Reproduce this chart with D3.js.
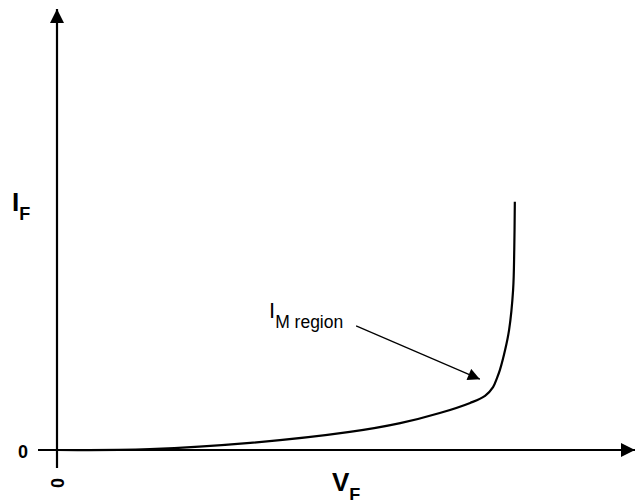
<!DOCTYPE html>
<html>
<head>
<meta charset="utf-8">
<script src="https://cdn.jsdelivr.net/npm/d3@7"></script>
<style>
    body { margin: 0; background: #fff; }
    text { font-family: "Liberation Sans", Arial, sans-serif; fill: #000; }
</style>
</head>
<body>
<svg id="chart" width="635" height="500"></svg>
<script>
// forward voltage (arbitrary units, 0..100) and forward current (0..100)
const vF = [0, 16.2, 33.7, 51.1, 59.9, 66.8, 72.1, 74.7, 76.1, 76.8, 77.3, 78.2, 78.9, 79.6, 79.8, 79.9];
const iF = [0, 0.2, 1.6, 4.1, 6.1, 8.4, 10.7, 12.3, 14.3, 16.4, 18.2, 22.7, 27.3, 36.4, 45.5, 56.4];

const tickLabels = ["0"];
const annotation = {label: "I", sub: "M region", from: [52.2, 28.2], to: [73.8, 16.1]};

const svg = d3.select("#chart");

const x = d3.scaleLinear().domain([0, 100]).range([57, 630]);
const y = d3.scaleLinear().domain([0, 100]).range([450, 10]);

const defs = svg.append("defs");

function marker(id, w, h) {
    defs.append("marker")
        .attr("id", id)
        .attr("viewBox", "0 0 10 10")
        .attr("refX", 10).attr("refY", 5)
        .attr("markerUnits", "userSpaceOnUse")
        .attr("markerWidth", w).attr("markerHeight", h)
        .attr("orient", "auto")
      .append("path")
        .attr("d", "M0,0L10,5L0,10Z")
        .attr("fill", "#000");
}
marker("axisHead", 14, 14);
marker("noteHead", 13, 12);

// axes
svg.append("line")
    .attr("x1", x(0)).attr("y1", y(0) + 18)
    .attr("x2", x(0)).attr("y2", y(100) - 1)
    .attr("stroke", "#000").attr("stroke-width", 2.2)
    .attr("marker-end", "url(#axisHead)");

svg.append("line")
    .attr("x1", x(0) - 19).attr("y1", y(0))
    .attr("x2", 635).attr("y2", y(0))
    .attr("stroke", "#000").attr("stroke-width", 2.2)
    .attr("marker-end", "url(#axisHead)");

// curve
const line = d3.line()
    .x((d, i) => x(vF[i]))
    .y((d, i) => y(iF[i]))
    .curve(d3.curveCatmullRom.alpha(0.5));

svg.append("path")
    .datum(vF)
    .attr("d", line)
    .attr("fill", "none")
    .attr("stroke", "#000")
    .attr("stroke-width", 2.2);

// zero labels
svg.append("text")
    .attr("x", x(0) - 34).attr("y", y(0) + 8)
    .attr("text-anchor", "middle")
    .attr("font-size", 18).attr("font-weight", "bold")
    .text(tickLabels[0]);

svg.append("text")
    .attr("transform", `translate(${x(0) + 7},${y(0) + 33}) rotate(-90)`)
    .attr("text-anchor", "middle")
    .attr("font-size", 18).attr("font-weight", "bold")
    .text(tickLabels[0]);

// axis titles
const yTitle = svg.append("text")
    .attr("x", 12).attr("y", 211)
    .attr("font-size", 26).attr("font-weight", "bold");
yTitle.append("tspan").text("I");
yTitle.append("tspan").attr("font-size", 18).attr("dy", 9).text("F");

const xTitle = svg.append("text")
    .attr("x", 332).attr("y", 491)
    .attr("font-size", 26).attr("font-weight", "bold");
xTitle.append("tspan").text("V");
xTitle.append("tspan").attr("font-size", 18).attr("dy", 10).text("F");

// annotation
const note = svg.append("text")
    .attr("x", 269).attr("y", 318)
    .attr("font-size", 22);
note.append("tspan").text(annotation.label);
note.append("tspan").attr("font-size", 17.5).attr("dy", 10).text(annotation.sub);

svg.append("line")
    .attr("x1", x(annotation.from[0])).attr("y1", y(annotation.from[1]))
    .attr("x2", x(annotation.to[0])).attr("y2", y(annotation.to[1]))
    .attr("stroke", "#000").attr("stroke-width", 1.2)
    .attr("marker-end", "url(#noteHead)");
</script>
</body>
</html>
